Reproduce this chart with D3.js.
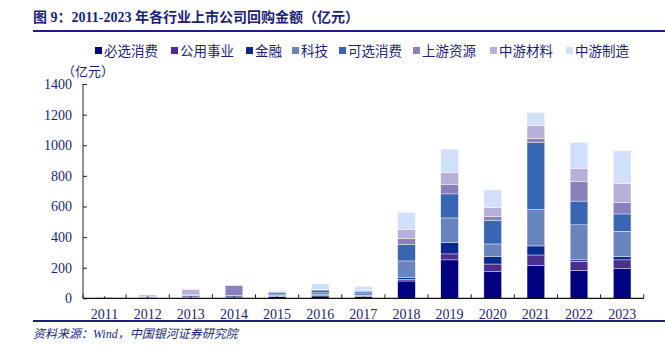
<!DOCTYPE html>
<html><head><meta charset="utf-8">
<script src="https://cdn.jsdelivr.net/npm/d3@7"></script>
<style>body{margin:0;background:#fff}svg{display:block}</style>
</head><body>
<svg id="c" width="665" height="346"></svg>
<script>
const years = ["2011","2012","2013","2014","2015","2016","2017","2018","2019","2020","2021","2022","2023"];
const seriesNames = ["必选消费","公用事业","金融","科技","可选消费","上游资源","中游材料","中游制造"];
const colors = ["#000080","#4a2f91","#0b2a8f","#6a85bd","#3866b2","#8b80bc","#b7b0d9","#d0dffa"];
const bixuan  = [0, 0, 2, 1, 12, 15, 12, 113, 251, 174, 213, 181, 194];
const gongyong= [0, 0, 1, 0, 2, 3, 3, 11, 39, 50, 70, 61, 57];
const jinrong = [1, 1, 1, 1, 4, 8, 5, 11, 76, 51, 59, 9, 21];
const keji    = [5, 3, 15, 15, 10, 10, 15, 109, 159, 80, 238, 229, 166];
const kexuan  = [1, 1, 2, 1, 12, 18, 10, 109, 157, 153, 438, 155, 113];
const shangyou= [1, 5, 1, 66, 3, 2, 5, 37, 61, 26, 26, 128, 74];
const cailiao = [2, 12, 34, 2, 3, 3, 8, 59, 79, 59, 85, 85, 125];
const zhizao  = [0, 2, 7, 0, 4, 35, 18, 113, 153, 115, 85, 170, 214];
const yTicks = [0,200,400,600,800,1000,1200,1400];
const seriesData = [bixuan,gongyong,jinrong,keji,kexuan,shangyou,cailiao,zhizao];

(function(){
const rows = years.map((yr,i)=>{const r={year:yr}; seriesNames.forEach((s,j)=>r[s]=seriesData[j][i]); return r;});
const stack = d3.stack().keys(seriesNames)(rows);

const svg = d3.select("#c");
const navy = "#1c1f78";
const pL=83, pR=643.7, pT=84, pB=298.3;
const x = d3.scaleBand().domain(years).range([pL,pR]).paddingInner(0.59).paddingOuter(0.295);
const y = d3.scaleLinear().domain([0,1400]).range([pB,pT]);

// title
svg.append("text").attr("x",33).attr("y",22).attr("fill",navy)
  .attr("font-family","'Liberation Serif','Noto Sans CJK SC'").attr("font-weight","bold").attr("font-size",14)
  .text("图 9：2011-2023 年各行业上市公司回购金额（亿元）");
svg.append("line").attr("x1",33).attr("x2",665).attr("y1",31).attr("y2",31).attr("stroke",navy).attr("stroke-width",2);
svg.append("line").attr("x1",33).attr("x2",665).attr("y1",321).attr("y2",321).attr("stroke",navy).attr("stroke-width",2);

// legend
const legX = [95,171,246,292,339,413,490,566];
const lg = svg.append("g");
seriesNames.forEach((s,i)=>{
  lg.append("rect").attr("x",legX[i]).attr("y",47).attr("width",7).attr("height",7).attr("fill",colors[i]);
  lg.append("text").attr("x",legX[i]+9).attr("y",56).attr("fill",navy)
    .attr("font-family","'Noto Sans CJK SC'").attr("font-size",13.5).text(s);
});

// unit
svg.append("text").attr("x",62).attr("y",76).attr("fill",navy)
  .attr("font-family","'Noto Sans CJK SC'").attr("font-size",13).text("（亿元）");

// bars
svg.append("g").selectAll("g").data(stack).join("g").attr("fill",(d,i)=>colors[i])
  .selectAll("rect").data(d=>d).join("rect")
  .attr("x",d=>x(d.data.year)).attr("width",x.bandwidth())
  .attr("y",d=>y(d[1])).attr("height",d=>Math.max(0,y(d[0])-y(d[1])))
  .attr("stroke","#fff").attr("stroke-width",0.4);

// y axis
const ya = svg.append("g").attr("transform",`translate(${pL},0)`)
  .call(d3.axisRight(y).tickValues(yTicks).tickSize(4).tickFormat(""));
ya.select(".domain").attr("stroke","#222").attr("d",`M0,${pT}V${pB}`);
ya.selectAll(".tick line").attr("stroke","#222");
svg.append("g").selectAll("text").data(yTicks).join("text")
  .attr("x",72).attr("y",d=>y(d)+5).attr("text-anchor","end").attr("fill",navy)
  .attr("font-family","'Liberation Serif'").attr("font-size",14).text(d=>d);

// x axis
const step = x.step();
const xa = svg.append("g");
xa.append("line").attr("x1",pL).attr("x2",pR).attr("y1",pB).attr("y2",pB).attr("stroke","#111").attr("stroke-width",1.2);
const bounds = d3.range(years.length+1).map(i=>pL+i*step);
xa.selectAll(".b").data(bounds).join("line").attr("class","b")
  .attr("x1",d=>d).attr("x2",d=>d).attr("y1",pB).attr("y2",pB-4).attr("stroke","#222");
xa.selectAll(".c").data(years).join("line").attr("class","c")
  .attr("x1",d=>x(d)+x.bandwidth()/2).attr("x2",d=>x(d)+x.bandwidth()/2).attr("y1",pB).attr("y2",pB-2).attr("stroke","#222");
xa.selectAll("text").data(years).join("text")
  .attr("x",d=>x(d)+x.bandwidth()/2).attr("y",319).attr("text-anchor","middle").attr("fill",navy)
  .attr("font-family","'Liberation Serif'").attr("font-size",14).text(d=>d);

// source
svg.append("text").attr("x",33).attr("y",338).attr("fill",navy)
  .attr("font-family","'Liberation Serif','Noto Sans CJK SC'").attr("font-style","italic").attr("font-size",12)
  .text("资料来源：Wind，中国银河证券研究院");
})();
</script>
</body></html>
